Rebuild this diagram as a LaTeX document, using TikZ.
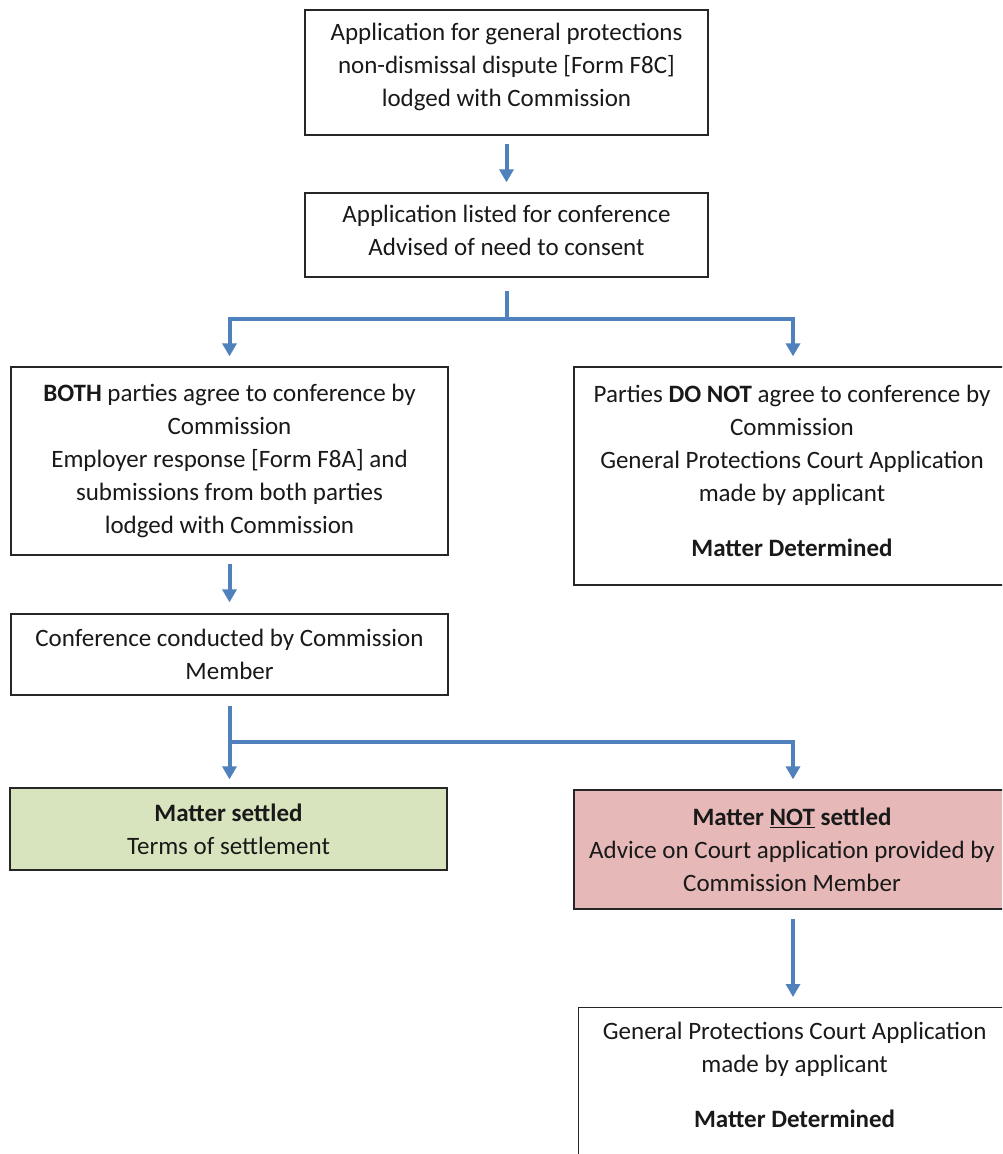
\documentclass[tikz,border=0pt]{standalone}
\usepackage{fontspec}
\setmainfont{Carlito}
\usetikzlibrary{arrows.meta}
\definecolor{arrblue}{HTML}{4F81BD}
\definecolor{okgreen}{HTML}{D7E4BD}
\definecolor{nored}{HTML}{E6B9B8}
\tikzset{
  box/.style={draw=black!85, line width=1.3pt, rectangle, align=center, inner sep=0pt,
    font=\fontsize{25}{33}\selectfont, text=black!90},
  txt/.style={align=center, inner sep=0pt, font=\fontsize{25}{33}\selectfont, text=black!90},
  arr/.style={draw=arrblue, line width=4pt, -{Triangle[width=14pt,length=13pt]}},
  plain/.style={draw=arrblue, line width=4pt}
}
\begin{document}
\begin{tikzpicture}[x=1pt,y=-1pt]
\useasboundingbox (0,0) rectangle (1002,1154);
\clip (0,0) rectangle (1002,1154);
\fill[white] (0,0) rectangle (1002,1154);

\node[box, minimum width=403, minimum height=125, text depth=15pt] (b1) at (506.5,72.5)
  {Application for general protections\\ non-dismissal dispute [Form F8C]\\ lodged with Commission};
\node[box, minimum width=403, minimum height=84, text depth=9pt] (b2) at (506.5,235)
  {Application listed for conference\\ Advised of need to consent};
\node[box, minimum width=437, minimum height=188] (b3) at (229.5,461)
  {\textbf{BOTH} parties agree to conference by\\ Commission\\ Employer response [Form F8A] and\\ submissions from both parties\\ lodged with Commission};
\node[box, minimum width=436, minimum height=218, text depth=10pt] (b4) at (792,476)
  {Parties \textbf{DO NOT} agree to conference by\\ Commission\\ General Protections Court Application\\ made by applicant\\[22pt] \textbf{Matter Determined}};
\node[box, minimum width=437, minimum height=81] (b5) at (229.5,654.5)
  {Conference conducted by Commission\\ Member};
\node[box, fill=okgreen, minimum width=437, minimum height=82] (b6) at (228.5,829)
  {\textbf{Matter settled}\\ Terms of settlement};
\node[box, fill=nored, minimum width=436, minimum height=119] (b7) at (792,849.5)
  {\textbf{Matter \underline{NOT} settled}\\ Advice on Court application provided by\\ Commission Member};
\node[box, anchor=north west, minimum width=432, minimum height=170] (b8) at (578,1007) {};
\node[txt, anchor=north] (b8t) at ([yshift=-15]b8.north)
  {General Protections Court Application\\ made by applicant\\[22pt] \textbf{Matter Determined}};

% arrows
\draw[arr] ([yshift=-8]b1.south) -- ([yshift=10]b2.north);
\draw[plain] ([yshift=-13]b2.south) -- ++(0,28) coordinate (j1);
\draw[arr, line join=miter] (j1) -| ([yshift=10]b3.north);
\draw[arr, line join=miter] (j1) -| ([yshift=10,xshift=1]b4.north);
\draw[arr] ([yshift=-8]b3.south) -- ([yshift=11]b5.north);
\draw[arr] ([yshift=-10]b5.south) -- ([yshift=8]b6.north -| b5.south);
\coordinate (j2) at ([yshift=-46]b5.south);
\draw[arr, line join=miter] (j2) -| ([yshift=10,xshift=1]b7.north);
\draw[arr] ([yshift=-9,xshift=1]b7.south) -- ([yshift=10,xshift=1]b7.south |- b8.north);
\end{tikzpicture}
\end{document}
